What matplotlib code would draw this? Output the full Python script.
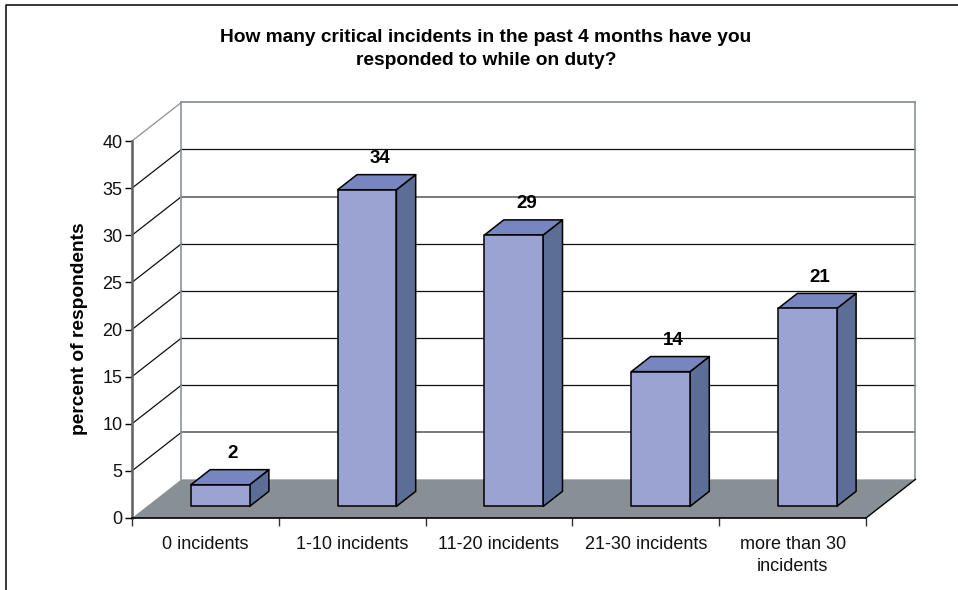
import matplotlib
matplotlib.use("Agg")
import matplotlib.pyplot as plt
from matplotlib.lines import Line2D
from matplotlib.patches import Polygon

plt.rcParams['font.family'] = ['Liberation Sans', 'DejaVu Sans']

categorias = ['0 incidents', '1-10 incidents', '11-20 incidents', '21-30 incidents', 'more than 30\nincidents']
alturas = [2.3, 33.6, 28.8, 14.3, 21.0]
etiquetas = ['2', '34', '29', '14', '21']
ticks_y = [0, 5, 10, 15, 20, 25, 30, 35, 40]
titulo = 'How many critical incidents in the past 4 months have you\nresponded to while on duty?'

# Chart depth, in data units of each axis
DX = 0.337
DY = 4.1
Z0 = 0.30
Z1 = 0.69
ANCHO = 0.40

def proy(x, y, z):
    return (x + z * DX, y + z * DY)

fig = plt.figure(figsize=(9.58, 5.90), dpi=100)
ax = fig.add_axes([132 / 958, 1 - 518 / 590, (866 - 132) / 958, (518 - 141) / 590])
ax.set_xlim(0, 5)
ax.set_ylim(0, 40)
ax.patch.set_visible(False)

# Outer frame
fig.add_artist(Line2D([5.5 / 958, 5.5 / 958, 1], [0, 1 - 4.5 / 590, 1 - 4.5 / 590], color='black', lw=1.1))

# Floor
suelo = [proy(0, 0, 0), proy(5, 0, 0), proy(5, 0, 1), proy(0, 0, 1)]
ax.add_patch(Polygon(suelo, closed=True, fc='#889096', ec='none', clip_on=False, zorder=1))

# Walls and grid
gris = '#8A9299'
for v in ticks_y[1:]:
    c = gris if v == 40 else ('#6E6E6E' if v in (5, 30) else '#101010')
    lw = 1.3 if v in (5, 30, 40) else 0.9
    a, b, d = proy(0, v, 0), proy(0, v, 1), proy(5, v, 1)
    ax.plot([a[0], b[0]], [a[1], b[1]], color=gris if v == 40 else '#101010', lw=0.9, clip_on=False, zorder=2)
    ax.plot([b[0], d[0]], [b[1], d[1]], color=c, lw=lw, clip_on=False, zorder=2)
a, b = proy(0, 0, 1), proy(0, 40, 1)
ax.plot([a[0], b[0]], [a[1], b[1]], color=gris, lw=1.2, clip_on=False, zorder=2)
a, b = proy(5, 0, 1), proy(5, 40, 1)
ax.plot([a[0], b[0]], [a[1], b[1]], color=gris, lw=1.2, clip_on=False, zorder=2)
a, b = proy(5, 0, 0), proy(5, 0, 1)
ax.plot([a[0], b[0]], [a[1], b[1]], color='black', lw=1.0, clip_on=False, zorder=2)

# Bars
for i, (h, t) in enumerate(zip(alturas, etiquetas)):
    x0 = i + 0.5 - ANCHO / 2
    x1 = i + 0.5 + ANCHO / 2
    frente = [proy(x0, 0, Z0), proy(x1, 0, Z0), proy(x1, h, Z0), proy(x0, h, Z0)]
    tapa = [proy(x0, h, Z0), proy(x1, h, Z0), proy(x1, h, Z1), proy(x0, h, Z1)]
    lado = [proy(x1, 0, Z0), proy(x1, 0, Z1), proy(x1, h, Z1), proy(x1, h, Z0)]
    for pts, col in [(lado, '#5C6D96'), (tapa, '#7886C0'), (frente, '#9AA3D1')]:
        ax.add_patch(Polygon(pts, closed=True, fc=col, ec='black', lw=1.1, joinstyle='round', clip_on=False, zorder=3))
    ax.annotate(t, proy(i + 0.5 - 0.045, h, Z1), xytext=(0, 11.5), textcoords='offset points',
                ha='center', va='center', fontsize=13.5, fontweight='bold', color='black', zorder=4)

# Axes
for s in ['top', 'right']:
    ax.spines[s].set_visible(False)
ax.spines['left'].set_color('#666666')
ax.spines['left'].set_linewidth(1.9)
ax.spines['bottom'].set_color('black')
ax.spines['bottom'].set_linewidth(1.2)
ax.spines['left'].set_zorder(5)
ax.spines['bottom'].set_zorder(5)

ax.set_yticks(ticks_y)
ax.tick_params(axis='y', length=5, width=1, color='black', labelsize=13, pad=2, labelcolor='#111111')
ax.set_xticks(range(6))
ax.set_xticklabels([])
ax.set_xticks([i + 0.5 for i in range(5)], minor=True)
ax.set_xticklabels(categorias, minor=True, fontsize=13, color='#111111', linespacing=1.38)
ax.tick_params(axis='x', which='major', length=6, width=1, color='#333333')
ax.tick_params(axis='x', which='minor', length=0, pad=13.2)

fig.text(79 / 958, 1 - 329 / 590, 'percent of respondents', rotation=90, ha='center', va='center',
         fontsize=13.8, fontweight='bold', color='black')
fig.text(486 / 958, 1 - 49 / 590, titulo, ha='center', va='center', fontsize=13.8, fontweight='bold',
         color='black', linespacing=1.42)

fig.savefig('out.png', dpi=100)
